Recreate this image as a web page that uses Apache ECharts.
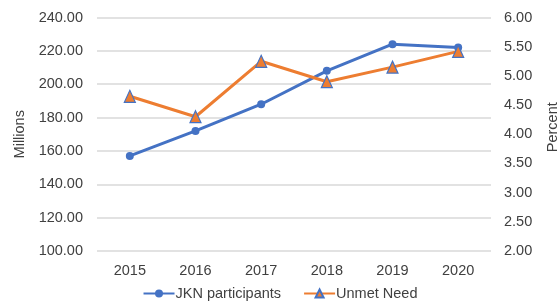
<!DOCTYPE html>
<html>
<head>
<meta charset="utf-8">
<script src="https://cdn.jsdelivr.net/npm/echarts@6/dist/echarts.min.js"></script>
<style>
  html, body { margin: 0; padding: 0; background: #fff; }
  #chart { width: 560px; height: 302px; }
</style>
</head>
<body>
<div id="chart"></div>
<script>
// values
const years = ['2015', '2016', '2017', '2018', '2019', '2020'];
const jknParticipants = [157, 172, 188, 208, 224, 222];   // millions
const unmetNeed = [4.65, 4.3, 5.25, 4.9, 5.15, 5.42];       // percent

const textColor = '#404040';
const fontFamily = 'Liberation Sans, Arial, sans-serif';

const chart = echarts.init(document.getElementById('chart'));

chart.setOption({
    animation: false,
    textStyle: { fontFamily: fontFamily, color: textColor },
    grid: { left: 97, right: 69, top: 17.5, bottom: 51, outerBoundsMode: 'none', containLabel: false },
    legend: {
        bottom: -4,
        left: 'center',
        itemWidth: 31,
        itemHeight: 10,
        itemGap: 22,
        textStyle: { fontSize: 14.5, color: textColor, fontFamily: fontFamily, padding: [0, 0, 0, -4] },
        data: ['JKN participants', 'Unmet Need']
    },
    xAxis: {
        type: 'category',
        data: years,
        axisLine: { show: false },
        axisTick: { show: false },
        axisLabel: { fontSize: 14.5, color: textColor, margin: 12 }
    },
    yAxis: [
        {
            type: 'value',
            min: 100,
            max: 240,
            interval: 20,
            name: 'Millions',
            nameLocation: 'middle',
            nameRotate: 90,
            nameGap: 68,
            nameTextStyle: { fontSize: 14.5, color: textColor },
            axisLabel: {
                fontSize: 14.5, color: textColor, margin: 14,
                formatter: (v) => v.toFixed(2)
            },
            splitLine: { lineStyle: { color: '#d9d9d9', width: 1.5 } }
        },
        {
            type: 'value',
            min: 2,
            max: 6,
            interval: 0.5,
            name: 'Percent',
            nameLocation: 'middle',
            nameRotate: 90,
            nameGap: 54,
            nameTextStyle: { fontSize: 14.5, color: textColor, padding: [0, 0, 0, 14] },
            axisLabel: {
                fontSize: 14.5, color: textColor, margin: 13,
                formatter: (v) => v.toFixed(2)
            },
            splitLine: { show: false }
        }
    ],
    series: [
        {
            name: 'JKN participants',
            type: 'line',
            yAxisIndex: 0,
            data: jknParticipants,
            symbol: 'circle',
            symbolSize: 8,
            lineStyle: { color: '#4472C4', width: 3 },
            itemStyle: { color: '#4472C4' }
        },
        {
            name: 'Unmet Need',
            type: 'line',
            yAxisIndex: 1,
            data: unmetNeed,
            symbol: 'triangle',
            symbolSize: [11, 12],
            lineStyle: { color: '#ED7D31', width: 3 },
            itemStyle: { color: '#ED7D31', borderColor: '#4472C4', borderWidth: 1.2 }
        }
    ]
});
</script>
</body>
</html>
